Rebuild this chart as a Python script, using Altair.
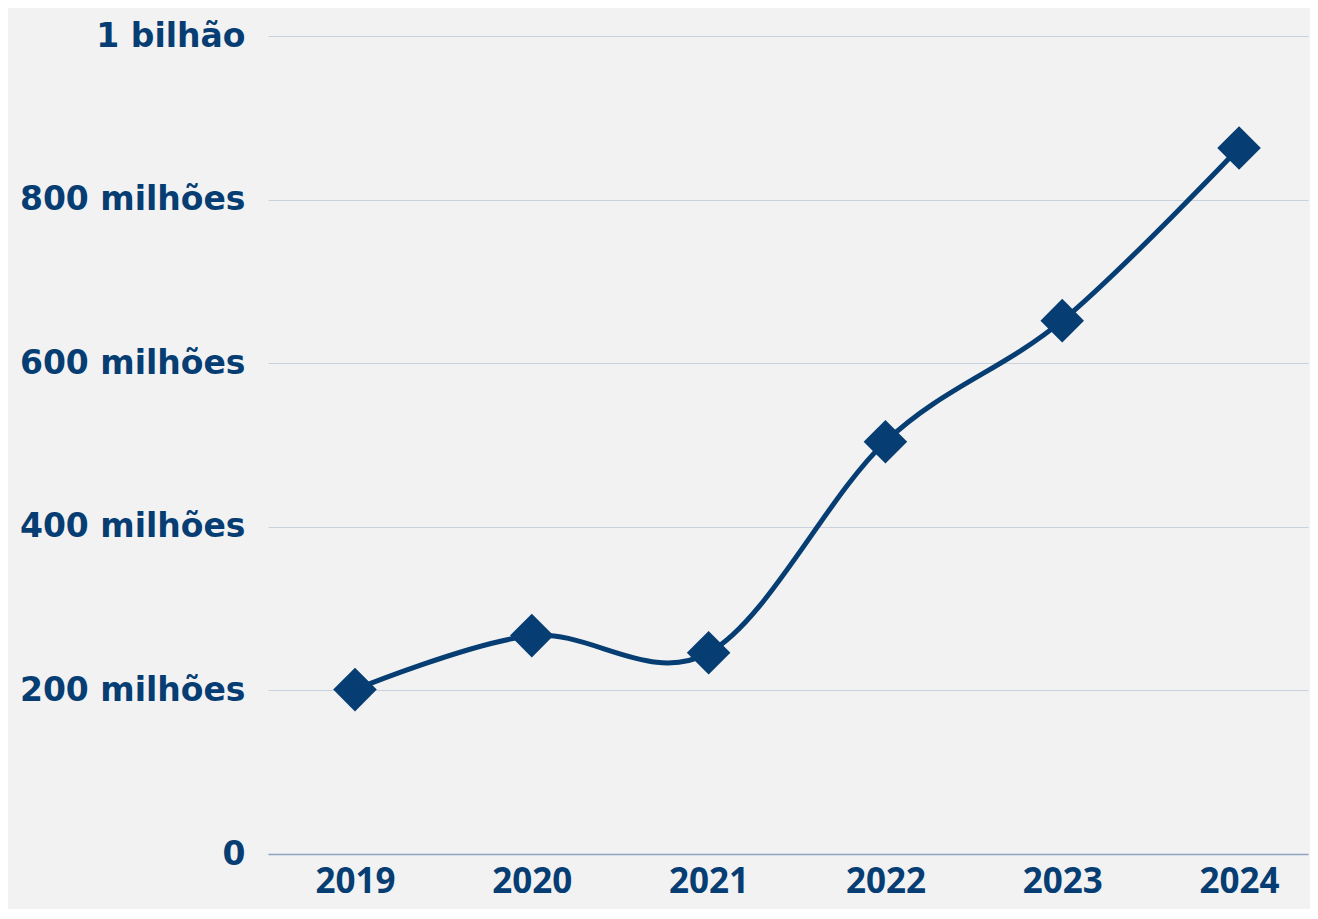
import altair as alt
import pandas as pd

years = [2019, 2020, 2021, 2022, 2023, 2024]
values = [201e6, 267e6, 246e6, 504e6, 652e6, 863e6]

df = pd.DataFrame({"ano": years, "valor": values})

NAVY = "#063d73"

x = alt.X("ano:Q",
          scale=alt.Scale(domain=[2018.508, 2024.39], nice=False, zero=False),
          axis=alt.Axis(values=years, format="d", title=None, grid=False, ticks=False,
                        domainColor="#8fa3bf", domainWidth=1.5,
                        labelFont="Open Sans", labelFontWeight="bold", labelFontSize=35,
                        labelColor=NAVY, labelBaseline="alphabetic", labelPadding=38,
                        labelFlush=False))
y = alt.Y("valor:Q",
          scale=alt.Scale(domain=[0, 1e9], nice=False),
          axis=alt.Axis(values=[0, 2e8, 4e8, 6e8, 8e8, 1e9], title=None, ticks=False,
                        domain=False, gridColor="#c8d2de", gridWidth=1,
                        labelFont="DejaVu Sans", labelFontWeight="bold", labelFontSize=33,
                        labelColor=NAVY, labelPadding=23, labelLimit=400,
                        labelExpr="datum.value == 0 ? '0' : (datum.value == 1e9 ? '1 bilhão' : format(datum.value/1e6, 'd') + ' milhões')"))

base = alt.Chart(df)
line = base.mark_line(color=NAVY, strokeWidth=5, interpolate="cardinal").encode(x=x, y=y)
pts = base.mark_point(shape="diamond", filled=True, color=NAVY, opacity=1, size=1900).encode(x=x, y=y)

chart = alt.layer(line, pts).properties(
    width=1040, height=818,
    background="#f2f2f2",
    autosize=alt.AutoSizeParams(type="none"),
    padding={"left": 260, "top": 28, "right": 2, "bottom": 55},
).configure_view(stroke=None)

chart.save("out.html", embed_options={"renderer": "svg", "actions": False})
